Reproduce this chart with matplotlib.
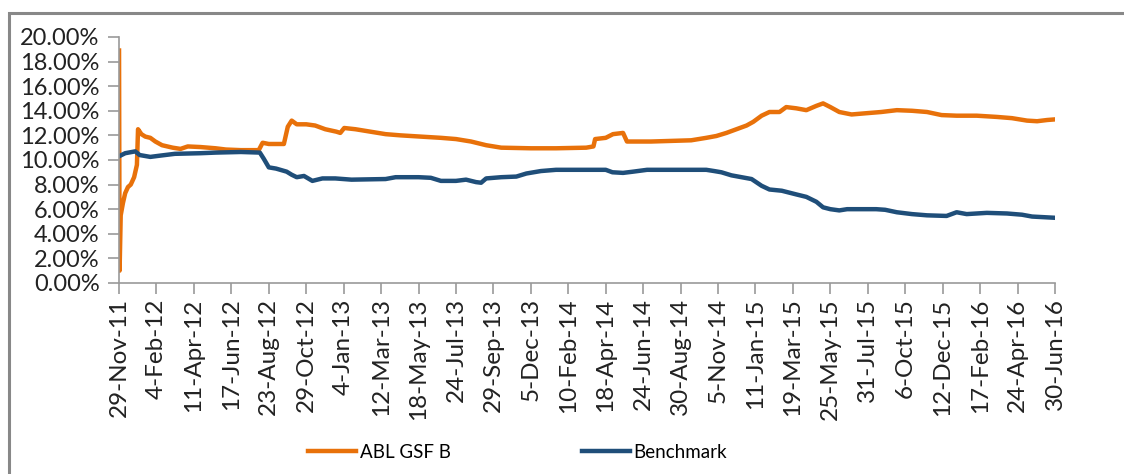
import numpy as np
import pandas as pd
import matplotlib
matplotlib.use('Agg')
import matplotlib.pyplot as plt
from matplotlib.patches import Rectangle

plt.rcParams['font.family'] = ['Lato', 'DejaVu Sans']

# 坐标轴日期刻度
tick_labels = ['29-Nov-11', '4-Feb-12', '11-Apr-12', '17-Jun-12', '23-Aug-12', '29-Oct-12',
               '4-Jan-13', '12-Mar-13', '18-May-13', '24-Jul-13', '29-Sep-13', '5-Dec-13',
               '10-Feb-14', '18-Apr-14', '24-Jun-14', '30-Aug-14', '5-Nov-14', '11-Jan-15',
               '19-Mar-15', '25-May-15', '31-Jul-15', '6-Oct-15', '12-Dec-15', '17-Feb-16',
               '24-Apr-16', '30-Jun-16']
y_ticks = [0, 0.02, 0.04, 0.06, 0.08, 0.10, 0.12, 0.14, 0.16, 0.18, 0.20]

# ABL GSF B
fund_dates = ['2011-11-29', '2011-11-30', '2011-12-02', '2011-12-06', '2011-12-10', '2011-12-15',
              '2011-12-20', '2011-12-26', '2011-12-29', '2011-12-31', '2012-01-02', '2012-01-08',
              '2012-01-15', '2012-01-24', '2012-02-02', '2012-02-14', '2012-03-04', '2012-03-18',
              '2012-03-31', '2012-04-23', '2012-05-20', '2012-06-07', '2012-07-04', '2012-08-05',
              '2012-08-12', '2012-08-23', '2012-09-19', '2012-09-26', '2012-10-03', '2012-10-12',
              '2012-10-29', '2012-11-14', '2012-12-02', '2012-12-22', '2012-12-29', '2013-01-05',
              '2013-01-25', '2013-02-21', '2013-03-20', '2013-04-16', '2013-05-22', '2013-06-27',
              '2013-07-24', '2013-08-20', '2013-09-16', '2013-10-13', '2013-12-05', '2014-01-19',
              '2014-03-14', '2014-03-27', '2014-03-30', '2014-04-18', '2014-05-01', '2014-05-19',
              '2014-05-26', '2014-07-08', '2014-08-13', '2014-09-18', '2014-10-15', '2014-11-02',
              '2014-11-20', '2014-12-08', '2014-12-26', '2015-01-07', '2015-01-22', '2015-02-05',
              '2015-02-23', '2015-03-07', '2015-03-25', '2015-04-12', '2015-04-30', '2015-05-12',
              '2015-05-25', '2015-06-10', '2015-07-02', '2015-07-28', '2015-08-24', '2015-09-21',
              '2015-10-18', '2015-11-14', '2015-12-10', '2016-01-06', '2016-02-11', '2016-03-18',
              '2016-04-14', '2016-05-11', '2016-05-29', '2016-06-16', '2016-06-30']
fund_vals = [18.9, 1.0, 5.5, 6.5, 7.3, 7.8,
             8.0, 8.6, 9.2, 9.6, 12.5, 12.1,
             11.9, 11.8, 11.5, 11.2, 11.0, 10.9,
             11.1, 11.05, 10.95, 10.85, 10.8, 10.8,
             11.4, 11.3, 11.3, 12.7, 13.2, 12.9,
             12.9, 12.8, 12.5, 12.3, 12.2, 12.6,
             12.5, 12.3, 12.1, 12.0, 11.9, 11.8,
             11.7, 11.5, 11.2, 11.0, 10.95, 10.95,
             11.0, 11.1, 11.7, 11.8, 12.1, 12.2,
             11.5, 11.5, 11.55, 11.6, 11.8, 11.95,
             12.2, 12.5, 12.8, 13.1, 13.6, 13.9,
             13.9, 14.3, 14.2, 14.05, 14.4, 14.6,
             14.3, 13.9, 13.7, 13.8, 13.9, 14.05,
             14.0, 13.9, 13.65, 13.6, 13.6, 13.5,
             13.4, 13.2, 13.15, 13.25, 13.3]

# Benchmark
bm_dates = ['2011-11-29', '2011-12-10', '2011-12-28', '2012-01-05', '2012-01-24', '2012-02-10',
            '2012-03-08', '2012-04-23', '2012-05-20', '2012-07-04', '2012-08-07', '2012-08-14',
            '2012-08-23', '2012-09-05', '2012-09-24', '2012-10-03', '2012-10-12', '2012-10-25',
            '2012-11-09', '2012-11-27', '2012-12-20', '2013-01-18', '2013-03-20', '2013-04-07',
            '2013-05-18', '2013-06-09', '2013-06-27', '2013-07-24', '2013-08-11', '2013-08-29',
            '2013-09-07', '2013-09-16', '2013-10-13', '2013-11-09', '2013-11-27', '2013-12-23',
            '2014-01-19', '2014-04-18', '2014-04-30', '2014-05-19', '2014-06-06', '2014-07-01',
            '2014-10-15', '2014-10-29', '2014-11-11', '2014-11-29', '2014-12-17', '2015-01-04',
            '2015-01-22', '2015-02-05', '2015-02-27', '2015-03-25', '2015-04-12', '2015-04-30',
            '2015-05-12', '2015-05-25', '2015-06-10', '2015-06-24', '2015-08-15', '2015-08-31',
            '2015-09-21', '2015-10-18', '2015-11-14', '2015-12-19', '2016-01-06', '2016-01-24',
            '2016-02-29', '2016-04-05', '2016-05-02', '2016-05-20', '2016-06-30']
bm_vals = [10.3, 10.55, 10.7, 10.4, 10.25, 10.35,
           10.5, 10.55, 10.6, 10.65, 10.6, 10.1,
           9.4, 9.3, 9.05, 8.8, 8.6, 8.7,
           8.3, 8.5, 8.5, 8.4, 8.45, 8.6,
           8.6, 8.55, 8.3, 8.3, 8.4, 8.2,
           8.15, 8.5, 8.6, 8.65, 8.9, 9.1,
           9.2, 9.2, 9.0, 8.95, 9.05, 9.2,
           9.2, 9.1, 9.0, 8.75, 8.6, 8.45,
           7.9, 7.6, 7.5, 7.2, 7.0, 6.6,
           6.15, 6.0, 5.9, 6.0, 6.0, 5.95,
           5.75, 5.6, 5.5, 5.45, 5.75, 5.6,
           5.7, 5.65, 5.55, 5.4, 5.3]

fund = pd.Series(np.array(fund_vals) / 100, index=pd.to_datetime(fund_dates))
bm = pd.Series(np.array(bm_vals) / 100, index=pd.to_datetime(bm_dates))
ticks = pd.to_datetime(tick_labels, format='%d-%b-%y')

fig = plt.figure(figsize=(11.24, 4.74), dpi=100)
ax = fig.add_axes([0.1059, 0.403, 0.8327, 0.519])

ax.plot(fund.index, fund.values, color='#E8710A', lw=3.2, label='ABL GSF B', solid_joinstyle='round')
ax.plot(bm.index, bm.values, color='#1F4E79', lw=3.2, label='Benchmark', solid_joinstyle='round')

ax.set_xlim(ticks[0], ticks[-1])
ax.set_ylim(0, 0.20)
ax.set_yticks(y_ticks)
ax.set_yticklabels(['%.2f%%' % (v * 100) for v in y_ticks], fontsize=17)
ax.set_xticks(ticks)
ax.set_xticklabels(tick_labels, rotation=90, fontsize=17.5)

for s in ['top', 'right']:
    ax.spines[s].set_visible(False)
for s in ['left', 'bottom']:
    ax.spines[s].set_color('#999999')
    ax.spines[s].set_linewidth(1.2)
ax.tick_params(axis='both', colors='#999999', length=8, width=1.2, labelcolor='#222222')
ax.tick_params(axis='x', pad=3)
ax.tick_params(axis='y', pad=6)

fig.legend(loc='center', bbox_to_anchor=(0.4604, 0.046), ncol=2, frameon=False,
           fontsize=13.5, handlelength=2.56, handletextpad=0.2, columnspacing=7.0)

# 外框
fig.patches.append(Rectangle((9 / 1124, -0.05), 1.2, 1.05 - 13 / 474, transform=fig.transFigure,
                             fill=False, edgecolor='#888888', lw=2.2))

fig.savefig('out.png', dpi=100)
